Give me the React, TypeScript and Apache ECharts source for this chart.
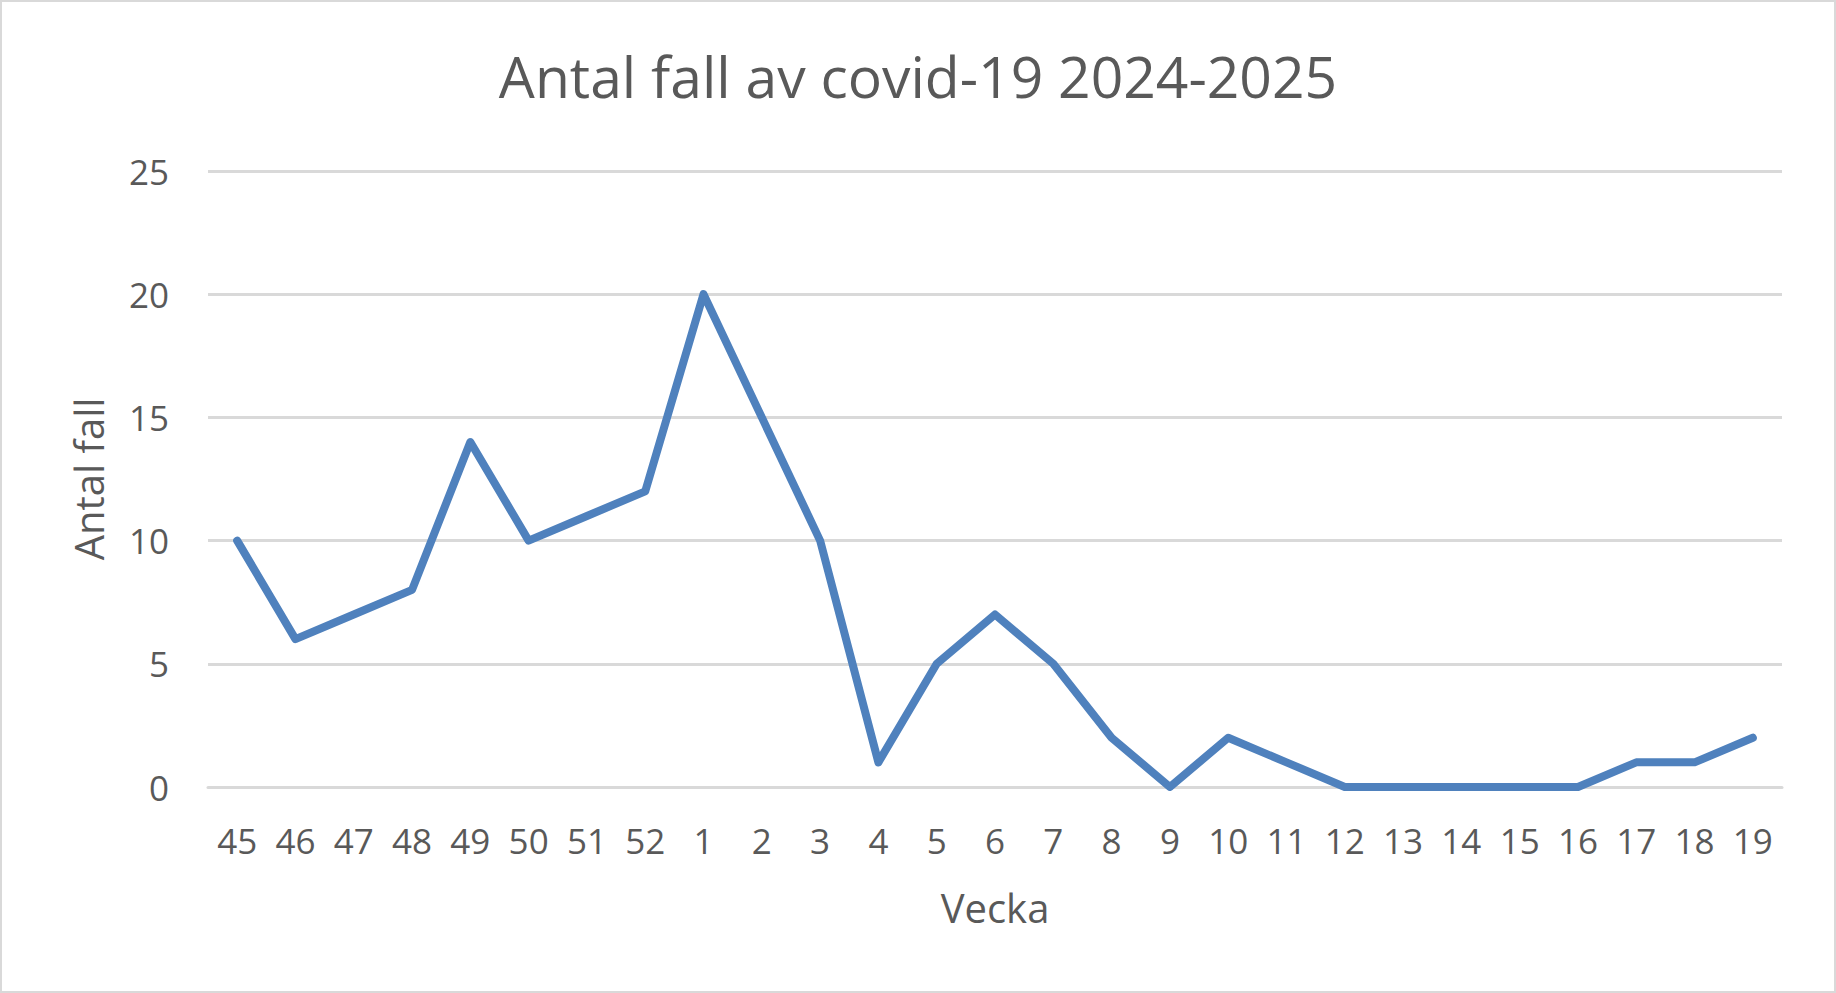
import React, { useRef, useEffect } from 'react';
import * as echarts from 'echarts';

// veckor nov 2024 - maj 2025
const weeks = [
  '45', '46', '47', '48', '49', '50', '51', '52',
  '1', '2', '3', '4', '5', '6', '7', '8', '9', '10',
  '11', '12', '13', '14', '15', '16', '17', '18', '19',
];
const cases = [
  10, 6, 7, 8, 14, 10, 11, 12,
  20, 15, 10, 1, 5, 7, 5, 2, 0, 2,
  1, 0, 0, 0, 0, 0, 1, 1, 2,
];
const yTicks = [0, 5, 10, 15, 20, 25];

const FONT = '"Open Sans", sans-serif';
const GREY = '#595959';

const App = () => {
  const chartRef = useRef<HTMLDivElement>(null);

  useEffect(() => {
    const myChart = echarts.init(chartRef.current, null, { renderer: 'svg' });

    const option = {
      animation: false,
      backgroundColor: '#ffffff',
      title: {
        text: 'Antal fall av covid-19 2024-2025',
        left: 'center',
        top: 39,
        textStyle: {
          color: GREY,
          fontFamily: FONT,
          fontSize: 57,
          fontWeight: 'normal',
          lineHeight: 60,
        },
      },
      grid: {
        left: 206,
        right: 52,
        top: 169,
        bottom: 204,
        containLabel: false,
      },
      xAxis: {
        type: 'category',
        data: weeks,
        boundaryGap: true,
        name: 'Vecka',
        nameLocation: 'middle',
        nameGap: 100,
        nameTextStyle: { color: GREY, fontFamily: FONT, fontSize: 40 },
        axisLine: { show: true, lineStyle: { color: '#d9d9d9', width: 3 } },
        axisTick: { show: false },
        axisLabel: {
          interval: 0,
          color: GREY,
          fontFamily: FONT,
          fontSize: 35,
          margin: 36,
        },
      },
      yAxis: {
        type: 'value',
        min: yTicks[0],
        max: yTicks[yTicks.length - 1],
        interval: 5,
        name: 'Antal fall',
        nameLocation: 'middle',
        nameGap: 100,
        nameTextStyle: { color: GREY, fontFamily: FONT, fontSize: 40 },
        axisLine: { show: false },
        axisTick: { show: false },
        axisLabel: {
          color: GREY,
          fontFamily: FONT,
          fontSize: 35,
          margin: 39,
        },
        splitLine: { lineStyle: { color: '#d9d9d9', width: 3 } },
      },
      series: [
        {
          name: 'Antal fall',
          type: 'line',
          data: cases,
          showSymbol: false,
          symbol: 'none',
          lineStyle: { color: '#4f81bd', width: 8, cap: 'round', join: 'round' },
          itemStyle: { color: '#4f81bd' },
        },
      ],
    };

    myChart.setOption(option);

    const handleResize = () => {
      myChart.resize();
    };
    window.addEventListener('resize', handleResize);

    return () => {
      window.removeEventListener('resize', handleResize);
      myChart.dispose();
    };
  }, []);

  return (
    <div
      style={{
        position: 'fixed',
        left: 0,
        top: 0,
        width: '100vw',
        height: '100vh',
        boxSizing: 'border-box',
        border: '2px solid #d9d9d9',
        background: '#ffffff',
      }}
    >
      <div ref={chartRef} style={{ width: '100%', height: '100%' }} />
    </div>
  );
};

export default App;
